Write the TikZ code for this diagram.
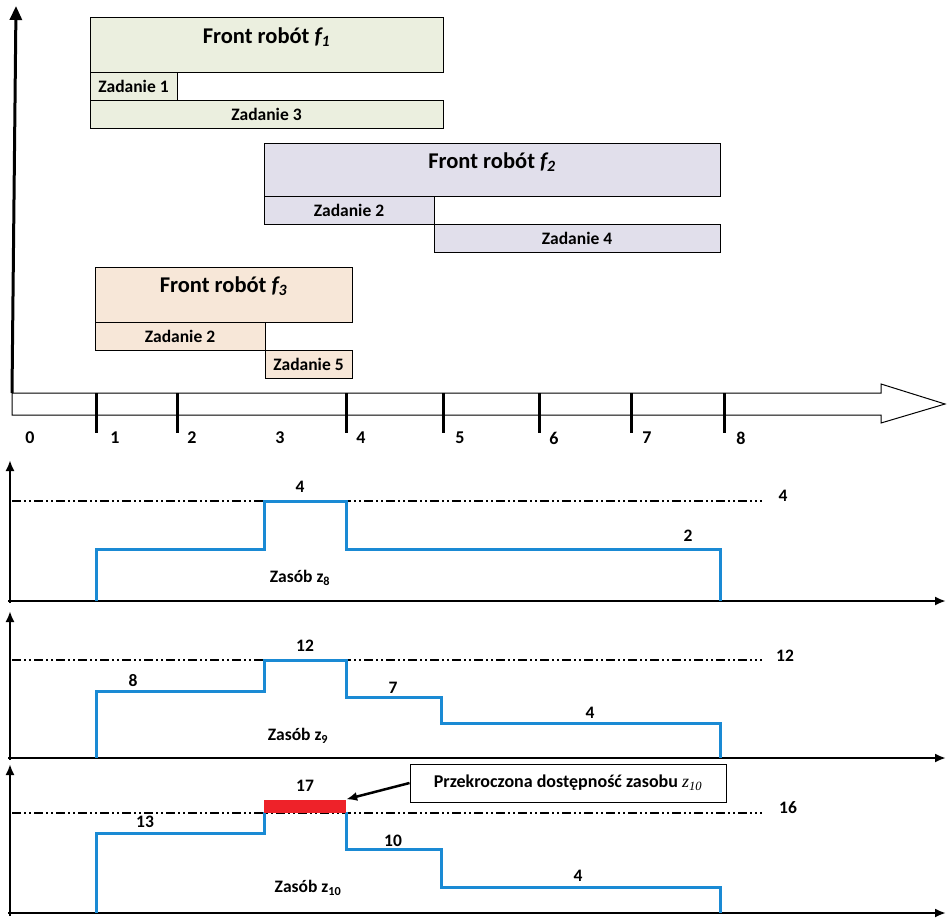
\documentclass[tikz,border=0pt]{standalone}
\usepackage{fontspec}
\setmainfont{Carlito}
\newfontfamily\serifit{Liberation Serif}
\usetikzlibrary{arrows.meta}
\definecolor{fone}{HTML}{EBEFDF}
\definecolor{ftwo}{HTML}{E1DFEB}
\definecolor{fthree}{HTML}{F7E7D8}
\definecolor{stepblue}{HTML}{1A8AD4}
\definecolor{overred}{HTML}{EE2229}
\tikzset{
  box/.style={draw=black, line width=1pt, inner sep=0pt, outer sep=0pt, anchor=center},
  title/.style={font=\bfseries\fontsize{22.5}{24}\selectfont, inner sep=0pt},
  task/.style={font=\bfseries\fontsize{17.5}{19}\selectfont},
  ticklab/.style={font=\bfseries\fontsize{18}{20}\selectfont, inner sep=0pt},
  tickmark/.style={line width=3pt},
  axis/.style={line width=2.5pt, -{Latex[length=11pt,width=9pt]}},
  limit/.style={line width=2.5pt, dash pattern=on 9pt off 3pt on 2pt off 3pt on 2pt off 3pt},
  load/.style={draw=stepblue, line width=3pt, line join=miter},
  val/.style={font=\bfseries\fontsize{17.5}{19}\selectfont, inner sep=0pt},
}
\begin{document}
\begin{tikzpicture}[x=1pt,y=-1pt]
\useasboundingbox (0,0) rectangle (947,918);
% time axis
\coordinate (vbot) at (12,393);
\coordinate (vtop) at (16,6);
\draw[line width=3pt, -{Triangle[length=14pt,width=12pt]}] (vbot) -- (vtop);
\draw[line width=1pt, fill=white] (12,393) -- (881,393) -- (881,384) -- (945,404) -- (881,423) -- (881,415) -- (12,415) -- cycle;
\foreach \x/\n in {96/t1,177/t2,346/t4,443/t5,539/t6,631/t7,724/t8}{
  \coordinate (\n a) at (\x,393); \coordinate (\n b) at (\x,433);
  \draw[tickmark] (\n a) -- (\n b);
}
\foreach \x/\l in {30/0,115/1,192/2,280/3,361/4,460/5,554/6,647/7,741/8}{
  \node[ticklab] (lab\l) at (\x,438) {\l};
}
% front f1
\node[box, fill=fone, minimum width=353pt, minimum height=55pt] (f1) at (266.5,44.5) {};
\node[title] (f1t) at (266.5,37) {Front robót {\itshape f\textsubscript{1}}};
\node[box, fill=fone, minimum width=87pt, minimum height=28pt, task] (z1) at (133.5,86) {Zadanie 1};
\node[box, fill=fone, minimum width=353pt, minimum height=28pt, task] (z3) at (266.5,114) {Zadanie 3};
% front f2
\node[box, fill=ftwo, minimum width=456pt, minimum height=53pt] (f2) at (492,169.5) {};
\node[title] (f2t) at (492,162) {Front robót {\itshape f\textsubscript{2}}};
\node[box, fill=ftwo, minimum width=170pt, minimum height=28pt, task] (z2a) at (349,210) {Zadanie 2};
\node[box, fill=ftwo, minimum width=286pt, minimum height=28pt, task] (z4) at (577,238) {Zadanie 4};
% front f3
\node[box, fill=fthree, minimum width=257pt, minimum height=55pt] (f3) at (223.5,294.5) {};
\node[title] (f3t) at (223.5,286) {Front robót {\itshape f\textsubscript{3}}};
\node[box, fill=fthree, minimum width=170pt, minimum height=28pt, task] (z2b) at (180,336) {Zadanie 2};
\node[box, fill=fthree, minimum width=87pt, minimum height=28pt, task] (z5) at (308.5,364) {Zadanie 5};

% chart z8
\draw[axis] (10,603) -- (10,460);
\draw[axis] (8,601) -- (946,601);
\draw[limit] (12,501) -- (762,501);
\draw[load] (96,601) -- (96,549) -- (264,549) -- (264,501) -- (346,501) -- (346,549) -- (720,549) -- (720,601);
\node[val] (c1a) at (300,487) {4};
\node[val] (c1b) at (783,496) {4};
\node[val] (c1c) at (688,536) {2};
\node[val] (c1n) at (300,578) {Zasób z\textsubscript{8}};

% chart z9
\draw[axis] (10,760) -- (10,611);
\draw[axis] (8,758) -- (946,758);
\draw[limit] (12,660) -- (762,660);
\draw[load] (96,758) -- (96,691) -- (264,691) -- (264,660) -- (346,660) -- (346,697) -- (441,697) -- (441,723) -- (720,723) -- (720,758);
\node[val] (c2a) at (133,681) {8};
\node[val] (c2b) at (305,646) {12};
\node[val] (c2c) at (393,688) {7};
\node[val] (c2d) at (590,713) {4};
\node[val] (c2e) at (785,656) {12};
\node[val] (c2n) at (298,736) {Zasób z\textsubscript{9}};

% chart z10
\draw[axis] (10,916) -- (10,764);
\draw[axis] (8,913) -- (946,913);
\draw[limit] (12,813) -- (762,813);
\draw[load] (96,913) -- (96,833) -- (264,833) -- (264,812);
\draw[load] (346,812) -- (346,849) -- (441,849) -- (441,887) -- (720,887) -- (720,913);
\node[fill=overred, inner sep=0pt, minimum width=82pt, minimum height=13pt] (over) at (305,806) {};
\node[val] (c3a) at (145,822) {13};
\node[val] (c3b) at (305,786) {17};
\node[val] (c3c) at (393,841) {10};
\node[val] (c3d) at (578,876) {4};
\node[val] (c3e) at (788,808) {16};
\node[val] (c3n) at (308,888) {Zasób z\textsubscript{10}};
\node[draw=black, line width=1pt, fill=white, minimum width=316pt, minimum height=38pt, inner sep=0pt, font=\bfseries\fontsize{18}{20}\selectfont] (note) at (568,783) {Przekroczona dostępność zasobu {\serifit\itshape\mdseries z\textsubscript{10}}};
\draw[line width=2.5pt, -{Latex[length=11pt,width=9pt]}] (note.west) -- (over.north east);
\end{tikzpicture}
\end{document}
